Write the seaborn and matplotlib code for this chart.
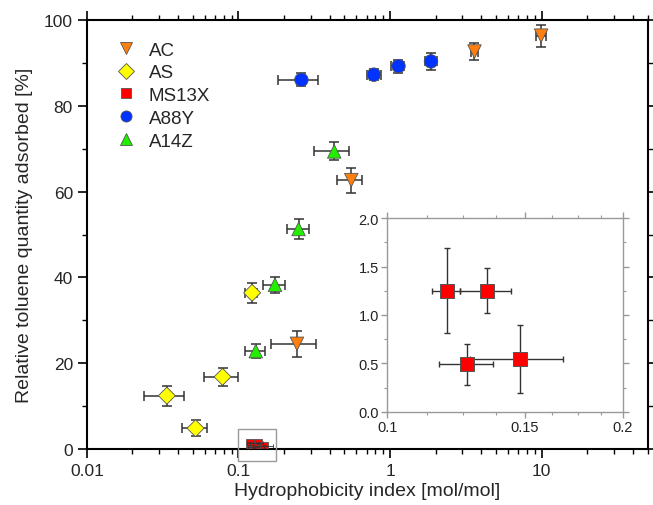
import numpy as np
import pandas as pd
import seaborn as sns
import matplotlib.pyplot as plt
from matplotlib.patches import Rectangle
from matplotlib.lines import Line2D
from matplotlib.ticker import FixedLocator, NullFormatter, MultipleLocator

# data (x = hydrophobicity index, y = % adsorbed)
ac_x = [0.243, 0.554, 3.6, 9.9]
ac_x_lo = [0.164, 0.448, 3.4, 9.1]
ac_x_hi = [0.325, 0.654, 3.8, 10.6]
ac_y = [24.5, 62.7, 92.7, 96.4]
ac_yerr = [3.0, 2.9, 1.9, 2.6]

as_x = [0.0337, 0.0521, 0.0785, 0.123]
as_x_lo = [0.0237, 0.0426, 0.0589, 0.111]
as_x_hi = [0.0436, 0.0621, 0.0989, 0.133]
as_y = [12.4, 4.8, 16.8, 36.4]
as_yerr = [2.3, 1.9, 2.1, 2.4]

ms_x = [0.1192, 0.134, 0.1264, 0.1476]
ms_x_lo = [0.1141, 0.1239, 0.1164, 0.1274]
ms_x_hi = [0.1239, 0.1440, 0.1364, 0.1677]
ms_y = [1.25, 1.25, 0.49, 0.55]
ms_y_lo = [0.81, 1.02, 0.28, 0.20]
ms_y_hi = [1.69, 1.48, 0.70, 0.90]

a88_x = [0.260, 0.781, 1.135, 1.86]
a88_x_lo = [0.181, 0.70, 1.02, 1.71]
a88_x_hi = [0.336, 0.87, 1.24, 2.03]
a88_y = [86.1, 87.3, 89.3, 90.4]
a88_yerr = [1.5, 1.3, 1.5, 1.9]

a14_x = [0.130, 0.174, 0.249, 0.428]
a14_x_lo = [0.111, 0.145, 0.208, 0.317]
a14_x_hi = [0.150, 0.204, 0.290, 0.537]
a14_y = [22.8, 38.3, 51.3, 69.4]
a14_yerr = [1.6, 1.9, 2.3, 2.1]

names = ['AC', 'AS', 'MS13X', 'A88Y', 'A14Z']
colors = {'AC': '#ff7f0e', 'AS': '#ffff00', 'MS13X': '#ff0000',
          'A88Y': '#0033ff', 'A14Z': '#22ee00'}
markers = {'AC': 'v', 'AS': 'D', 'MS13X': 's', 'A88Y': 'o', 'A14Z': '^'}
sizes = {'AC': 95, 'AS': 75, 'MS13X': 36, 'A88Y': 95, 'A14Z': 95}

series = {
    'AC': (ac_x, ac_x_lo, ac_x_hi, ac_y, np.array(ac_y) - np.array(ac_yerr), np.array(ac_y) + np.array(ac_yerr)),
    'AS': (as_x, as_x_lo, as_x_hi, as_y, np.array(as_y) - np.array(as_yerr), np.array(as_y) + np.array(as_yerr)),
    'MS13X': (ms_x, ms_x_lo, ms_x_hi, ms_y, ms_y_lo, ms_y_hi),
    'A88Y': (a88_x, a88_x_lo, a88_x_hi, a88_y, np.array(a88_y) - np.array(a88_yerr), np.array(a88_y) + np.array(a88_yerr)),
    'A14Z': (a14_x, a14_x_lo, a14_x_hi, a14_y, np.array(a14_y) - np.array(a14_yerr), np.array(a14_y) + np.array(a14_yerr)),
}

rows = []
for n in names:
    x, xlo, xhi, y, ylo, yhi = series[n]
    for i in range(len(x)):
        rows.append({'material': n, 'x': x[i], 'x_lo': xlo[i], 'x_hi': xhi[i],
                     'y': y[i], 'y_lo': ylo[i], 'y_hi': yhi[i]})
df = pd.DataFrame(rows)

sns.set_style('ticks')
plt.rcParams['font.family'] = ['Liberation Sans', 'DejaVu Sans']

fig = plt.figure(figsize=(6.53, 5.06), dpi=100)
ax = fig.add_axes([0.133, 0.111, 0.859, 0.847])

err_col = '#333333'


def draw_errors(a, d, cap, lw=1.1, z=2):
    xerr = [d['x'] - d['x_lo'], d['x_hi'] - d['x']]
    yerr = [d['y'] - d['y_lo'], d['y_hi'] - d['y']]
    a.errorbar(d['x'], d['y'], xerr=xerr, yerr=yerr, fmt='none',
               ecolor=err_col, elinewidth=lw, capsize=cap, capthick=lw, zorder=z)


for n in names:
    d = df[df['material'] == n]
    if n == 'MS13X':
        draw_errors(ax, d, 1.5, lw=0.6, z=4)
    else:
        draw_errors(ax, d, 3.5)

sns.scatterplot(data=df, x='x', y='y', hue='material', style='material',
                palette=colors, markers=markers, size='material', sizes=sizes,
                edgecolor='#555555', linewidth=0.6, ax=ax, legend=False, zorder=3)

ax.set_xscale('log')
ax.set_xlim(0.01, 50)
ax.set_ylim(0, 100)
ax.set_xticks([0.01, 0.1, 1, 10])
ax.set_xticklabels(['0.01', '0.1', '1', '10'])
ax.yaxis.set_major_locator(MultipleLocator(20))
ax.yaxis.set_minor_locator(MultipleLocator(10))
ax.tick_params(which='both', direction='out', top=True, right=True,
               labeltop=False, labelright=False, color='black', labelsize=12.5)
ax.tick_params(which='major', length=6.5, width=1.2)
ax.tick_params(which='minor', length=3.5, width=1.0)
for s in ax.spines.values():
    s.set_linewidth(1.5)
    s.set_color('black')
ax.set_xlabel('Hydrophobicity index [mol/mol]', fontsize=14, labelpad=3)
ax.set_ylabel('Relative toluene quantity adsorbed [%]', fontsize=14, labelpad=8)

# box marking the zoomed region
ax.add_patch(Rectangle((0.1, -2.8), 0.078, 7.4, fill=False, edgecolor='#999999',
                       linewidth=1.0, clip_on=False, zorder=5))

handles = [Line2D([], [], linestyle='none', marker=markers[n], markerfacecolor=colors[n],
                  markeredgecolor='#555555', markeredgewidth=0.6,
                  markersize=8 if n != 'MS13X' else 6.5) for n in names]
ax.legend(handles, names, loc='upper left', bbox_to_anchor=(0.02, 0.99), frameon=False,
          fontsize=13.5, labelspacing=0.3, handletextpad=0.6, handlelength=1.2)

# inset with the MS13X points
ins = fig.add_axes([0.593, 0.184, 0.361, 0.383])
d = df[df['material'] == 'MS13X']
draw_errors(ins, d, 2.0, lw=1.0)
sns.scatterplot(data=d, x='x', y='y', marker='s', color=colors['MS13X'], s=115,
                edgecolor='#555555', linewidth=0.7, ax=ins, legend=False, zorder=3)
ins.set_xscale('log')
ins.set_xlim(0.1, 0.2)
ins.set_ylim(0, 2)
ins.xaxis.set_major_locator(FixedLocator([0.1, 0.15, 0.2]))
ins.xaxis.set_minor_locator(FixedLocator([0.1125, 0.125, 0.1375, 0.1625, 0.175, 0.1875]))
ins.xaxis.set_minor_formatter(NullFormatter())
ins.set_xticklabels(['0.1', '0.15', '0.2'])
ins.yaxis.set_major_locator(MultipleLocator(0.5))
ins.yaxis.set_minor_locator(MultipleLocator(0.25))
ins.yaxis.set_major_formatter(lambda v, p: f'{v:.1f}')
ins.tick_params(which='both', direction='out', top=True, right=True, color='#999999',
                labelcolor='#222222', labelsize=10.5, pad=2)
ins.tick_params(which='major', length=4, width=1.0)
ins.tick_params(which='minor', length=2.5, width=0.8)
for s in ins.spines.values():
    s.set_color('#999999')
    s.set_linewidth(1.0)
ins.set_xlabel('')
ins.set_ylabel('')

fig.savefig('out.png', dpi=100)
